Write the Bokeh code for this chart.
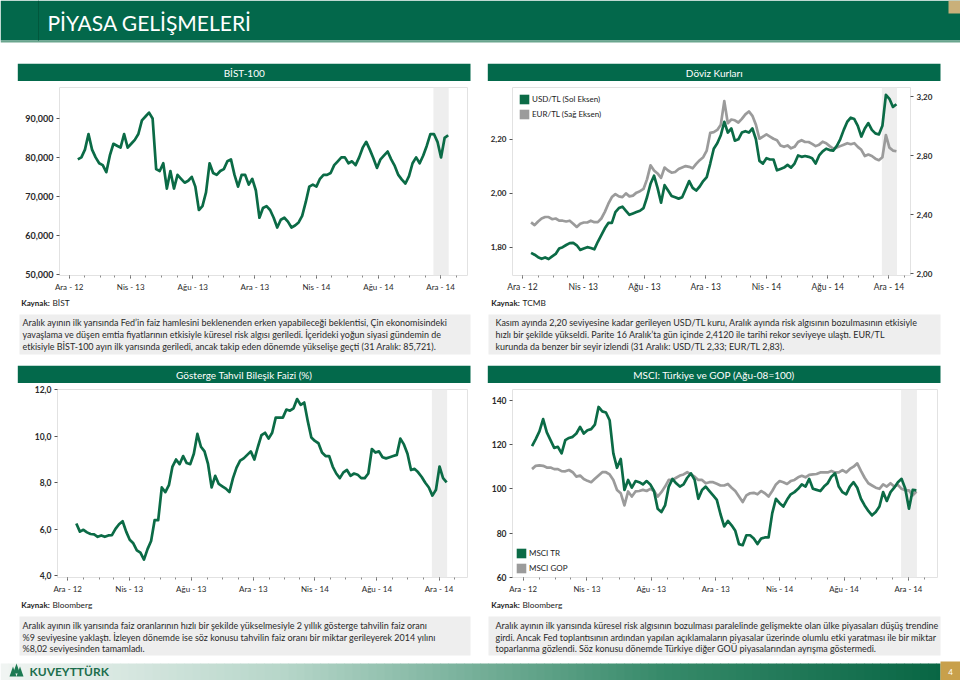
import pandas as pd
from bokeh.plotting import figure
from bokeh.models import (Range1d, LinearAxis, FixedTicker, BoxAnnotation,
                          Legend, LegendItem)
from bokeh.layouts import column, row
from bokeh.core.properties import value
from bokeh.embed import file_html
from bokeh.resources import INLINE

# ---------------------------------------------------------------- data
START = "2013-01-01"          # weekly observations, first one
N_WEEKS = 105

bist100 = [79500, 80000, 82000, 86000, 82000, 80000, 78500, 78000, 76200, 80500,
           83500, 83000, 82500, 86000, 82500, 83500, 84500, 86000, 89500, 90500,
           91500, 90000, 77000, 76500, 78500, 72000, 76500, 72000, 75500, 74500,
           73500, 74000, 75000, 72500, 66500, 67500, 71000, 78500, 76000, 75500,
           76500, 77000, 79000, 79500, 75500, 72500, 75500, 75500, 73000, 74500,
           71500, 64500, 67000, 67500, 66500, 64500, 62000, 64000, 64500, 63500,
           62000, 62500, 63300, 65000, 68500, 72500, 73000, 72500, 74500, 75500,
           75500, 76000, 78000, 79000, 80000, 80000, 78500, 79000, 78000, 80000,
           82500, 84000, 82000, 79800, 77300, 79500, 80500, 81500, 79500, 77800,
           75500, 74300, 73300, 75200, 78500, 80000, 78500, 80500, 83000, 86000,
           86000, 84000, 80000, 85000, 85700]

usd_tl = [1.779, 1.772, 1.763, 1.757, 1.762, 1.756, 1.766, 1.775, 1.795, 1.800,
          1.808, 1.815, 1.816, 1.807, 1.790, 1.795, 1.800, 1.797, 1.792, 1.820,
          1.845, 1.870, 1.890, 1.890, 1.930, 1.945, 1.950, 1.935, 1.920, 1.925,
          1.930, 1.935, 1.945, 1.985, 2.035, 2.065, 2.020, 1.965, 2.030, 2.010,
          1.990, 1.985, 1.980, 1.985, 2.015, 2.045, 2.020, 2.010, 2.025, 2.045,
          2.060, 2.110, 2.165, 2.185, 2.215, 2.265, 2.225, 2.240, 2.195, 2.200,
          2.225, 2.230, 2.225, 2.240, 2.200, 2.120, 2.110, 2.130, 2.125, 2.125,
          2.085, 2.090, 2.095, 2.105, 2.095, 2.110, 2.140, 2.135, 2.138, 2.135,
          2.130, 2.110, 2.140, 2.155, 2.165, 2.160, 2.158, 2.175, 2.200, 2.235,
          2.265, 2.280, 2.275, 2.250, 2.210, 2.240, 2.260, 2.235, 2.222, 2.218,
          2.250, 2.365, 2.350, 2.320, 2.330]

eur_tl = [2.349, 2.330, 2.355, 2.375, 2.385, 2.385, 2.370, 2.375, 2.360, 2.360,
          2.355, 2.360, 2.340, 2.318, 2.340, 2.348, 2.348, 2.360, 2.350, 2.350,
          2.375, 2.420, 2.475, 2.520, 2.540, 2.525, 2.520, 2.545, 2.525, 2.530,
          2.550, 2.560, 2.575, 2.640, 2.735, 2.700, 2.680, 2.650, 2.720, 2.700,
          2.685, 2.690, 2.710, 2.720, 2.730, 2.725, 2.715, 2.745, 2.770, 2.790,
          2.835, 2.955, 2.960, 2.975, 3.010, 3.170, 3.020, 3.045, 3.040, 3.025,
          3.050, 3.080, 3.100, 3.070, 3.010, 2.915, 2.930, 2.945, 2.930, 2.915,
          2.905, 2.870, 2.860, 2.870, 2.850, 2.860, 2.893, 2.905, 2.893, 2.893,
          2.880, 2.865, 2.875, 2.895, 2.885, 2.865, 2.848, 2.855, 2.865, 2.875,
          2.885, 2.878, 2.885, 2.860, 2.840, 2.798, 2.808, 2.798, 2.780, 2.770,
          2.790, 2.940, 2.855, 2.835, 2.830]

tahvil = [6.25, 5.90, 5.98, 5.87, 5.80, 5.78, 5.68, 5.74, 5.68, 5.74,
          5.75, 6.02, 6.22, 6.35, 5.90, 5.55, 5.40, 5.10, 5.00, 4.70,
          5.15, 5.50, 6.40, 6.40, 7.80, 7.60, 7.90, 8.70, 9.00, 8.80,
          9.15, 8.85, 8.80, 9.25, 10.10, 9.55, 9.35, 8.80, 7.80, 8.30,
          7.95, 7.85, 7.75, 7.60, 8.20, 8.65, 8.95, 9.05, 9.20, 9.35,
          9.00, 9.55, 10.05, 10.15, 9.90, 10.15, 10.80, 10.80, 10.80, 11.15,
          11.10, 11.20, 11.60, 11.35, 11.45, 10.65, 9.95, 9.80, 9.70, 9.30,
          9.15, 9.15, 8.70, 8.40, 8.20, 8.45, 8.55, 8.30, 8.40, 8.35,
          8.20, 8.20, 8.40, 9.45, 9.30, 9.35, 9.10, 9.05, 9.10, 9.15,
          9.20, 9.90, 9.65, 9.25, 8.55, 8.60, 8.45, 8.25, 8.00, 7.80,
          7.45, 7.70, 8.70, 8.20, 8.02]

msci_tr = [119.3, 122.5, 126.0, 131.5, 125.5, 122.0, 118.5, 119.0, 116.0, 122.0,
           123.0, 123.5, 125.0, 128.0, 125.0, 126.5, 127.0, 129.0, 137.0, 135.0,
           134.5, 131.0, 116.0, 109.5, 113.5, 99.5, 104.0, 100.5, 103.5, 103.0,
           102.0, 103.5, 102.0, 99.0, 91.0, 89.5, 92.5, 101.0, 104.5, 102.5,
           101.0, 102.0, 105.0, 107.0, 104.0, 95.5, 99.5, 101.0, 99.0, 97.0,
           95.0, 88.5, 83.0, 85.5, 83.5, 81.0, 75.0, 74.5, 79.0, 79.0,
           77.5, 75.0, 77.5, 78.0, 78.0, 89.0, 95.5, 93.5, 92.0, 95.0,
           97.5, 98.5, 100.0, 102.0, 101.0, 104.5, 100.0, 99.5, 99.0, 101.0,
           102.5, 105.5, 107.0, 101.0, 98.5, 97.5, 101.0, 103.0, 100.5, 95.5,
           92.5, 90.0, 88.0, 89.5, 92.0, 98.5, 94.5, 98.5, 100.5, 103.0,
           104.5, 100.0, 91.0, 99.5, 99.3]

msci_gop = [108.9, 110.4, 110.6, 110.4, 109.6, 109.6, 108.9, 108.9, 108.0, 107.9,
            108.5, 107.5, 105.5, 106.0, 104.4, 103.6, 103.0, 104.5, 106.0, 107.5,
            107.5, 106.5, 104.0, 99.5, 98.0, 92.5, 98.8, 96.5, 98.8, 99.0,
            99.5, 99.0, 100.0, 99.0, 96.5, 98.5, 101.0, 104.0, 104.0, 105.0,
            106.0, 106.5, 107.5, 106.5, 105.5, 104.0, 104.0, 102.5, 103.0, 103.0,
            102.3, 101.5, 101.5, 102.2, 100.5, 99.0, 96.5, 94.0, 97.0, 98.0,
            98.2, 97.5, 99.0, 98.0, 96.5, 99.0, 102.0, 103.5, 103.0, 102.2,
            103.5, 104.0, 105.2, 105.9, 105.2, 106.3, 106.5, 106.7, 107.4, 107.4,
            107.4, 108.1, 107.4, 107.4, 108.5, 107.4, 109.0, 110.0, 111.5, 108.1,
            105.0, 102.5, 101.5, 100.5, 100.0, 102.0, 101.0, 102.5, 101.0, 101.8,
            100.0, 99.3, 99.3, 97.0, 98.8]

x_tick_dates = ["2012-12-15", "2013-04-15", "2013-08-15", "2013-12-15",
                "2014-04-15", "2014-08-15", "2014-12-15"]
x_tick_labels = ["Ara - 12", "Nis - 13", "Ağu - 13", "Ara - 13",
                 "Nis - 14", "Ağu - 14", "Ara - 14"]
highlight = ("2014-12-01", "2014-12-31")

bist_ticks = [50000, 60000, 70000, 80000, 90000]
bist_labels = ["50,000", "60,000", "70,000", "80,000", "90,000"]
usd_ticks = [1.8, 2.0, 2.2]
usd_labels = ["1,80", "2,00", "2,20"]
eur_ticks = [2.0, 2.4, 2.8, 3.2]
eur_labels = ["2,00", "2,40", "2,80", "3,20"]
tahvil_ticks = [4, 6, 8, 10, 12]
tahvil_labels = ["4,0", "6,0", "8,0", "10,0", "12,0"]
msci_ticks = [60, 80, 100, 120, 140]
msci_labels = ["60", "80", "100", "120", "140"]

page_title = "PİYASA GELİŞMELERİ"
panel_titles = ["BİST-100", "Döviz Kurları",
                "Gösterge Tahvil Bileşik Faizi (%)", "MSCI: Türkiye ve GOP (Ağu-08=100)"]
sources = ["BİST", "TCMB", "Bloomberg", "Bloomberg"]

text_bist = ["Aralık ayının ilk yarısında Fed’in faiz hamlesini beklenenden erken yapabileceği beklentisi, Çin ekonomisindeki",
             "yavaşlama ve düşen emtia fiyatlarının etkisiyle küresel risk algısı geriledi. İçerideki yoğun siyasi gündemin de",
             "etkisiyle BİST-100 ayın ilk yarısında geriledi, ancak takip eden dönemde yükselişe geçti (31 Aralık: 85,721)."]
text_doviz = ["Kasım ayında 2,20 seviyesine kadar gerileyen USD/TL kuru, Aralık ayında  risk algısının bozulmasının etkisiyle",
              "hızlı  bir şekilde  yükseldi. Parite 16  Aralık’ta  gün içinde  2,4120  ile  tarihi  rekor  seviyeye  ulaştı.  EUR/TL",
              "kurunda da benzer bir seyir izlendi (31 Aralık: USD/TL 2,33; EUR/TL 2,83)."]
text_tahvil = ["Aralık ayının ilk yarısında faiz oranlarının hızlı bir şekilde yükselmesiyle 2 yıllık gösterge tahvilin faiz oranı",
               "%9 seviyesine yaklaştı. İzleyen dönemde ise söz konusu tahvilin faiz oranı bir miktar gerileyerek 2014 yılını",
               "%8,02 seviyesinden tamamladı."]
text_msci = ["Aralık ayının ilk yarısında küresel risk algısının bozulması paralelinde gelişmekte olan ülke piyasaları düşüş trendine",
             "girdi. Ancak Fed toplantısının ardından yapılan açıklamaların piyasalar üzerinde olumlu etki yaratması ile bir miktar",
             "toparlanma gözlendi. Söz konusu dönemde Türkiye diğer GOÜ piyasalarından ayrışma göstermedi."]

# ---------------------------------------------------------------- style
FONT = "Lato"
GREEN = "#0b6b46"
BAR_GREEN = "#03694b"
HEAD_GREEN = "#03684b"
GRAY = "#9b9b9b"
BOX_GRAY = "#eeeeee"
PARA = "8.95px"
NAN = float("nan")

base = pd.Timestamp(START)
dates = pd.date_range(START, periods=N_WEEKS, freq="7D")
xdays = [(d - base).days for d in dates]


def day(s):
    return (pd.Timestamp(s) - base).days


major_days = [day(s) for s in x_tick_dates]
minor_days = [(d - base).days for d in
              (pd.date_range("2012-11-01", "2015-01-01", freq="MS") + pd.Timedelta(days=14))]


def style_axis(ax, ticks, labels, size, bold=False, minor=None):
    ax.ticker = FixedTicker(ticks=ticks, minor_ticks=minor or [])
    ax.major_label_overrides = dict(zip(ticks, labels))
    ax.axis_line_color = None
    ax.major_tick_line_color = "#555555"
    ax.major_tick_in = 0
    ax.major_tick_out = 3
    if minor:
        ax.minor_tick_line_color = "#8a8a8a"
        ax.minor_tick_in = 0
        ax.minor_tick_out = 2
    else:
        ax.minor_tick_line_color = None
    ax.major_label_text_font = FONT
    ax.major_label_text_font_size = size
    ax.major_label_text_color = "#2a2a2a"
    ax.major_label_text_font_style = "bold" if bold else "normal"
    ax.major_label_standoff = 3


def chart(width, bl, br, xr, yr, yt, yl, ysize, xsize):
    p = figure(width=width, height=213, output_backend="svg", toolbar_location=None,
               title_location=None, x_range=Range1d(*xr), y_range=Range1d(*yr),
               min_border_left=bl, min_border_right=br, min_border_top=6,
               min_border_bottom=17)
    p.xgrid.visible = False
    p.ygrid.visible = False
    p.outline_line_color = "#e2e2e2"
    p.add_layout(BoxAnnotation(left=day(highlight[0]), right=day(highlight[1]),
                               fill_color=BOX_GRAY, fill_alpha=1.0, line_color=None,
                               level="underlay"))
    style_axis(p.xaxis[0], major_days, x_tick_labels, xsize, minor=minor_days)
    style_axis(p.yaxis[0], yt, yl, ysize, bold=True)
    return p


def deco(w, h):
    p = figure(width=w, height=h, output_backend="svg", toolbar_location=None,
               title_location=None, x_range=Range1d(0, w), y_range=Range1d(h, 0),
               x_axis_location=None, y_axis_location=None, min_border=0)
    p.xgrid.visible = False
    p.ygrid.visible = False
    p.outline_line_color = None
    p.background_fill_color = "white"
    p.border_fill_color = "white"
    return p


def txt(p, x, y, s, size, color="#222222", style="normal", align="left"):
    p.text(x=[x], y=[y], text=[s], text_font=value(FONT), text_font_size=size,
           text_color=color, text_font_style=style, text_align=align,
           text_baseline="middle")


def swatch(p, color):
    # legend swatch only: one row of NaN so nothing is drawn in the plot itself
    return p.quad(left=[NAN], right=[NAN], top=[NAN], bottom=[NAN],
                  fill_color=color, line_color=None)


def legend(p, items, loc, margin, padding):
    leg = Legend(items=items, location=loc, margin=margin, padding=padding, spacing=3,
                 glyph_width=12, glyph_height=12, label_height=12, label_standoff=2,
                 label_text_font=FONT, label_text_font_size="8px",
                 label_text_color="#222222", background_fill_alpha=0,
                 border_line_color=None)
    p.add_layout(leg)


# ---------------------------------------------------------------- charts
p_bist = chart(478, 59, 11, (-36, 766), (49670, 97950), bist_ticks, bist_labels, "9px", "8px")
p_bist.line(xdays, bist100, color=GREEN, line_width=2.7, line_join="round")

p_fx = chart(482, 34, 50, (-37, 756), (1.695, 2.392), usd_ticks, usd_labels, "8px", "8.5px")
p_fx.extra_y_ranges = {"eur": Range1d(1.989, 3.262)}
ax_r = LinearAxis(y_range_name="eur")
style_axis(ax_r, eur_ticks, eur_labels, "8px", bold=True)
p_fx.add_layout(ax_r, "right")
p_fx.line(xdays, eur_tl, color=GRAY, line_width=2.7, line_join="round", y_range_name="eur")
p_fx.line(xdays, usd_tl, color=GREEN, line_width=2.7, line_join="round")
legend(p_fx, [LegendItem(label="USD/TL (Sol Eksen)", renderers=[swatch(p_fx, GREEN)], index=0),
              LegendItem(label="EUR/TL (Sağ Eksen)", renderers=[swatch(p_fx, GRAY)], index=0)],
       "top_left", 6, 3)

p_bond = chart(478, 57, 11, (-37, 769), (3.93, 12.01), tahvil_ticks, tahvil_labels, "8.5px", "8px")
p_bond.line(xdays, tahvil, color=GREEN, line_width=2.7, line_join="round")

p_msci = chart(482, 34, 23, (-37, 768), (59.9, 144.9), msci_ticks, msci_labels, "8.5px", "7.8px")
p_msci.line(xdays, msci_gop, color=GRAY, line_width=2.7, line_join="round")
p_msci.line(xdays, msci_tr, color=GREEN, line_width=2.7, line_join="round")
legend(p_msci, [LegendItem(label="MSCI TR", renderers=[swatch(p_msci, GREEN)], index=0),
                LegendItem(label="MSCI GOP", renderers=[swatch(p_msci, GRAY)], index=0)],
       "bottom_left", 3, 3)

# ---------------------------------------------------------------- decoration bands
W = 960

head = deco(W, 63)
head.quad(left=[0], right=[W], top=[0], bottom=[40], fill_color=HEAD_GREEN, line_color=None)
head.quad(left=[0], right=[W], top=[40], bottom=[42], fill_color="#6aa58e", line_color=None)
head.segment(x0=[38], y0=[0], x1=[38], y1=[40], line_color="#01573c", line_width=1)
head.quad(left=[948], right=[W], top=[0], bottom=[13], fill_color="#c9b07a", line_color=None)
txt(head, 47, 21.5, page_title, "21px", color="white")


def title_band(t_left, t_right):
    p = deco(W, 18)
    p.quad(left=[17.3, 487.3], right=[470, 940], top=[0, 0], bottom=[18, 18],
           fill_color=BAR_GREEN, line_color=None)
    txt(p, 243.7, 9.5, t_left, "10px", color="white", align="center")
    txt(p, 713.7, 9.5, t_right, "10px", color="white", align="center")
    return p


t1 = title_band(panel_titles[0], panel_titles[1])
t2 = title_band(panel_titles[2], panel_titles[3])


def source_and_text(p, src_l, src_r, box_top, box_bot, ys, lines_l, lines_r):
    txt(p, 20.7, 8, "Kaynak:", "8px", style="bold")
    txt(p, 52, 8, src_l, "8.3px")
    txt(p, 490.7, 8, "Kaynak:", "8px", style="bold")
    txt(p, 522, 8, src_r, "8.3px")
    p.quad(left=[19, 488], right=[470, 940], top=[box_top, box_top],
           bottom=[box_bot, box_bot], fill_color=BOX_GRAY, line_color=None)
    for y, s in zip(ys, lines_l):
        txt(p, 22, y, s, PARA, color="#2a2a2a")
    for y, s in zip(ys, lines_r):
        txt(p, 495, y, s, PARA, color="#2a2a2a")


k1 = deco(W, 71)
source_and_text(k1, sources[0], sources[1], 20, 60, [28, 40.3, 52.3], text_bist, text_doviz)

k2 = deco(W, 84)
source_and_text(k2, sources[2], sources[3], 20, 59, [29, 40.7, 52.3], text_tahvil, text_msci)

# footer gradient
stops = [(0.0, (240, 244, 242)), (0.3, (182, 214, 201)), (0.7, (55, 138, 106)), (1.0, (8, 102, 68))]


def grad(t):
    for (a, ca), (b, cb) in zip(stops[:-1], stops[1:]):
        if a <= t <= b:
            f = (t - a) / (b - a)
            return "#%02x%02x%02x" % tuple(int(ca[i] + (cb[i] - ca[i]) * f) for i in range(3))
    return "#%02x%02x%02x" % stops[-1][1]


seg = 8
lefts = list(range(0, 940, seg))
k2.quad(left=lefts, right=[min(l + seg + 0.5, 940) for l in lefts], top=[67] * len(lefts),
        bottom=[84] * len(lefts), fill_color=[grad(l / 940) for l in lefts], line_color=None)
k2.quad(left=[940], right=[W], top=[65], bottom=[84], fill_color="#c8a04b", line_color=None)
txt(k2, 950, 75, "4", "8px", color="white", align="center")
k2.patches(xs=[[9, 16, 12.5], [16, 23, 19.5], [12.5, 19.5, 16]],
           ys=[[80, 80, 70], [80, 80, 70], [77, 77, 67]],
           fill_color="#1c7a52", line_color=None)
txt(k2, 29, 75, "KUVEYTTÜRK", "12px", color="#1c6e4c", style="bold")

layout = column(head, t1, row(p_bist, p_fx), k1, t2, row(p_bond, p_msci), k2)

open("out.html", "w").write(file_html(layout, INLINE))
